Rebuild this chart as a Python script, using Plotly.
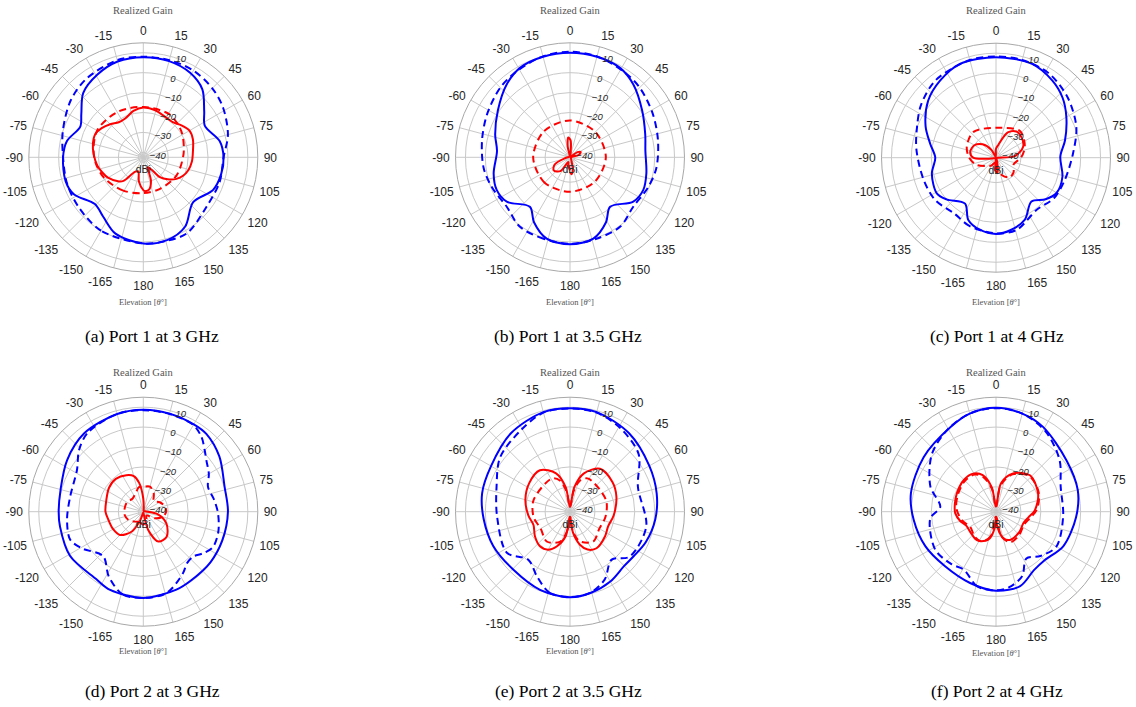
import plotly.graph_objects as go

# ---------------- data (gain in dBi vs elevation angle in degrees) ----------------
# (a) Port 1 at 3 GHz
A_BS_T = [-180, -160, -146, -134, -118, -107, -90, -78, -64, -55, -43, -29, -15, 0, 15, 29, 41, 53, 63, 78, 90, 102, 115, 132, 149, 164, 180]
A_BS_R = [0.8, -1.7, -6.5, -8.7, -3.0, -1.7, -2.2, -3.3, -7.3, -4.5, 1.7, 5.0, 7.3, 7.8, 7.5, 6.0, 2.7, -4.2, -7.8, -3.3, -2.2, -2.5, -3.8, -8.8, -1.8, 0.8, 0.8]
A_BD_T = [-180, -150, -128, -109, -90, -72, -52, -36, -15, 0, 15, 30, 45, 58, 75, 90, 108, 128, 150, 165, 180]
A_BD_R = [0.8, 0.0, -1.5, -2.0, -2.2, 0.0, 3.8, 6.2, 8.0, 8.0, 8.0, 7.8, 6.5, 4.7, 1.5, -2.2, -2.2, -2.2, 1.5, 1.0, 0.8]
A_RS_T = [-180, -170, -160, -150, -140, -135, -120, -110, -100, -86, -75, -64, -55, -45, -35, -25, -12, 0, 15, 30, 40, 50, 60, 70, 82, 95, 106, 115, 123, 132, 140, 146, 155, 162, 170, 177, 180]
A_RS_R = [-26, -30, -35, -34, -27, -25.3, -22, -20.5, -19, -17.5, -16.3, -15.7, -17, -19, -21, -21, -18.7, -17.5, -18.2, -19.5, -19.5, -17.5, -15.7, -16, -17.3, -18, -19, -20.5, -22.6, -26, -29.5, -35, -37, -30, -26, -25.5, -26]
A_RD_T = [-180, -149, -117, -90, -60, -30, 0, 30, 44, 59, 85, 119, 152, 180]
A_RD_R = [-24.5, -23, -20.2, -17.8, -15.7, -16.3, -17.2, -17.2, -18.3, -19.7, -22.2, -23.5, -24.6, -24.5]

# (b) Port 1 at 3.5 GHz
B_BS_T = [-180, -164, -151, -141, -125, -114, -102, -85, -73, -57, -41, -29, -15, 0, 15, 29, 41, 57, 73, 85, 102, 114, 125, 141, 151, 164, 180]
B_BS_R = [1.2, 0.0, -5.2, -10.5, -3.7, -2.2, -3.3, -5.7, -3.2, 0.7, 6.0, 9.0, 9.8, 10.0, 9.8, 9.0, 6.0, 0.7, -3.0, -4.5, -3.3, -2.2, -3.7, -10.5, -5.2, 0.0, 1.2]
B_BD_T = [-180, -162, -144, -128, -111, -97, -79, -62, -45, -32, -15, 0, 15, 32, 45, 62, 79, 97, 111, 128, 144, 162, 180]
B_BD_R = [1.0, 0.5, 0.5, -2.2, -0.5, 1.2, 2.5, 4.5, 7.0, 8.3, 10.0, 10.5, 10.0, 8.3, 7.0, 4.5, 2.5, 1.2, -0.5, -2.2, 0.5, 0.5, 1.0]
B_RS_T = [-180, -170, -160, -145, -129, -115, -100, -60, -20, -12, -5, 2, 8, 20, 45, 55, 64, 75, 85, 120, 160, 168, 175, 180]
B_RS_R = [-36, -38, -40, -34, -32, -34, -40, -42, -42, -37, -32.5, -34, -40, -42, -42, -38, -36.5, -38, -42, -42, -40, -36, -34, -35]
B_RD_T = [-180, -135, -90, -45, 0, 45, 90, 135, 180]
B_RD_R = [-25.2, -24.5, -24.0, -24.0, -24.0, -24.5, -24.5, -25.0, -25.2]

# (c) Port 1 at 4 GHz
C_BS_T = [-180, -167, -156, -146, -130, -121, -104, -90, -78, -66, -50, -36, -21, 0, 21, 36, 48, 60, 76, 89, 106, 120, 130, 141, 155, 168, 180]
C_BS_R = [-4.2, -5.5, -8.3, -14.7, -10.0, -7.8, -9.3, -12.0, -8.7, -3.8, 2.0, 5.3, 8.0, 8.0, 8.0, 5.5, 2.5, -1.7, -6.8, -10.2, -7.8, -7.3, -10.0, -14.2, -8.2, -5.5, -4.2]
C_BD_T = [-180, -159, -143, -125, -107, -84, -69, -55, -38, -15, 0, 15, 32, 50, 69, 87, 108, 125, 142, 164, 180]
C_BD_R = [-4.5, -5.7, -7.5, -5.3, -4.5, -2.3, 0.0, 3.5, 6.8, 8.3, 8.3, 8.3, 7.5, 4.5, 0.7, -3.8, -6.2, -7.0, -9.3, -4.8, -4.5]
C_RS_T = [-180, -175, -165, -120, -100, -90, -77, -60, -45, -30, -15, 0, 10, 25, 38, 50, 68, 85, 100, 150, 165, 175, 180]
C_RS_R = [-38, -36, -42, -42, -40, -31, -29.2, -30, -33, -38, -42, -38, -36, -28.5, -25.8, -26, -27.8, -33, -42, -42, -40, -34.7, -36]
C_RD_T = [-180, -170, -150, -130, -110, -90, -69, -41, 0, 42, 69, 90, 110, 130, 145, 160, 175, 180]
C_RD_R = [-39, -40, -38, -36, -32, -29, -26.8, -25.3, -27.5, -24.5, -27, -30, -33, -31, -30.5, -33, -38, -39]

# (d) Port 2 at 3 GHz
D_BS_T = [-180, -157, -145, -121, -100, -90, -75, -56, -37, -15, 0, 15, 30, 39, 54, 73, 90, 110, 127, 145, 157, 180]
D_BS_R = [0.8, 0.2, -1.2, 0.5, 0.0, 0.0, 0.5, 3.7, 6.8, 8.3, 8.7, 8.5, 8.2, 7.8, 4.7, 0.2, 0.0, -0.3, -0.3, -0.5, 0.0, 0.8]
D_BD_T = [-180, -166, -152, -138, -121, -111, -96, -78, -58, -46, -35, -15, 0, 15, 30, 38, 45, 51, 60, 69, 80, 91, 105, 117, 125, 132, 140, 147, 164, 180]
D_BD_R = [0.8, 0.3, -5.6, -12.4, -6.7, -3.2, -4.0, -5.0, -3.2, 2.3, 6.0, 8.3, 8.5, 8.3, 7.8, 5.0, 1.1, -1.7, -4.5, -7.7, -6.5, -5.0, -3.5, -3.3, -6.0, -8.8, -8.5, -5.8, 0.0, 0.8]
D_RS_T = [-180, -175, -160, -150, -135, -120, -103, -90, -72, -55, -40, -25, -15, -8, 0, 8, 20, 60, 85, 100, 117, 137, 153, 165, 180]
D_RS_R = [-42, -42, -38, -31, -26, -25, -24.5, -23.5, -23, -21.5, -21, -22.3, -24, -28, -36, -41, -42, -42, -41, -35, -29.5, -25.3, -25.7, -33, -42]
D_RD_T = [-180, -160, -140, -120, -100, -80, -60, -40, -20, -10, 0, 15, 30, 45, 60, 75, 90, 105, 120, 140, 160, 180]
D_RD_R = [-36, -37, -36, -34, -33, -33, -33, -34, -32, -30, -30, -29.5, -32, -35, -33, -31.5, -31, -32.5, -36, -40, -38, -36]

# (e) Port 2 at 3.5 GHz
E_BS_T = [-180, -159, -136, -114, -95, -78, -60, -37, -15, 0, 15, 37, 60, 78, 95, 112, 125, 135, 150, 165, 180]
E_BS_R = [0.5, -0.5, -1.8, -0.3, 1.0, 2.6, 3.3, 6.8, 9.3, 9.5, 9.3, 6.8, 3.5, 2.0, 0.5, -1.5, -3.5, -4.0, -2.0, -0.5, 0.5]
E_BD_T = [-180, -166, -153, -139, -123, -94, -71, -52, -31, -15, 0, 15, 31, 50, 70, 101, 127, 139, 153, 166, 180]
E_BD_R = [0.3, -0.5, -6.0, -10.6, -4.7, -5.8, -3.5, 2.0, 5.3, 9.0, 9.3, 9.0, 6.5, 2.5, -6.2, -3.5, -5.0, -10.6, -4.2, -0.5, 0.3]
E_RS_T = [-180, -170, -159, -150, -139, -125, -110, -95, -75, -55, -36, -20, -10, 0, 10, 20, 35, 55, 72, 95, 111, 125, 144, 155, 163, 172, 180]
E_RS_R = [-40, -30, -23.8, -20.5, -19.5, -21, -23, -21.5, -19.3, -17.5, -16.8, -22, -30, -40, -30, -22, -16.2, -16.5, -18, -20.5, -22, -21, -19.8, -21.5, -25, -32, -40]
E_RD_T = [-180, -172, -162, -142, -120, -98, -72, -29, -18, -10, 0, 10, 18, 29, 72, 98, 120, 142, 162, 172, 180]
E_RD_R = [-40, -33, -26.7, -23.5, -25.5, -24, -23.3, -23.5, -26, -32, -40, -32, -26, -23.5, -23.5, -24.5, -25.5, -23.5, -27, -33, -40]

# (f) Port 2 at 4 GHz
F_BS_T = [-180, -160, -137, -116, -96, -78, -53, -28, -15, 0, 15, 29, 54, 75, 94, 117, 135, 147, 162, 180]
F_BS_R = [-2.8, -4.4, -5.0, -3.0, -1.0, 1.2, 3.0, 5.8, 8.5, 9.7, 8.5, 6.2, 1.3, 0.0, -2.2, -4.5, -8.0, -7.5, -3.2, -2.8]
F_BD_T = [-180, -166, -151, -140, -122, -96, -85, -69, -48, -30, -15, 0, 15, 32, 51, 69, 94, 120, 135, 147, 158, 170, 180]
F_BD_R = [-3.0, -3.8, -9.2, -8.0, -6.5, -9.3, -14.4, -7.2, 0.8, 5.5, 8.5, 9.5, 8.5, 4.8, -1.4, -7.7, -8.7, -7.5, -11.0, -14.5, -7.5, -4.0, -3.0]
F_RS_T = [-180, -175, -167, -160, -146, -130, -115, -105, -92, -80, -65, -45, -31, -20, -10, 0, 10, 24, 43, 67, 88, 100, 113, 130, 154, 165, 175, 180]
F_RS_R = [-40, -34, -28.8, -27, -25.3, -26, -26, -24, -22, -21.5, -20.8, -19.8, -20.2, -23, -30, -40, -28, -21.5, -17.5, -19.5, -23, -26, -27.6, -27, -26.7, -29, -35, -40]
F_RD_T = [-180, -168, -155, -140, -120, -105, -85, -65, -45, -30, -20, -10, 0, 10, 24, 43, 66, 87, 100, 115, 135, 155, 168, 180]
F_RD_R = [-40, -30, -26, -26, -27.5, -25, -22.5, -21.5, -20.5, -21, -24, -31, -40, -29, -22, -18, -19, -22, -25, -27, -26, -25.5, -30, -40]

CAPTIONS = ["(a) Port 1 at 3 GHz", "(b) Port 1 at 3.5 GHz", "(c) Port 1 at 4 GHz",
            "(d) Port 2 at 3 GHz", "(e) Port 2 at 3.5 GHz", "(f) Port 2 at 4 GHz"]
ANG_TICKVALS = [0, 15, 30, 45, 60, 75, 90, 105, 120, 135, 150, 165, 180, 195, 210, 225, 240, 255, 270, 285, 300, 315, 330, 345]
ANG_TICKTEXT = ["0", "15", "30", "45", "60", "75", "90", "105", "120", "135", "150", "165", "180",
                "-165", "-150", "-135", "-120", "-105", "-90", "-75", "-60", "-45", "-30", "-15"]
RAD_TICKVALS = [-40, -30, -20, -10, 0, 10]
RAD_RANGE = [-42.5, 15]

PANELS = [
    (A_BS_T, A_BS_R, A_BD_T, A_BD_R, A_RS_T, A_RS_R, A_RD_T, A_RD_R),
    (B_BS_T, B_BS_R, B_BD_T, B_BD_R, B_RS_T, B_RS_R, B_RD_T, B_RD_R),
    (C_BS_T, C_BS_R, C_BD_T, C_BD_R, C_RS_T, C_RS_R, C_RD_T, C_RD_R),
    (D_BS_T, D_BS_R, D_BD_T, D_BD_R, D_RS_T, D_RS_R, D_RD_T, D_RD_R),
    (E_BS_T, E_BS_R, E_BD_T, E_BD_R, E_RS_T, E_RS_R, E_RD_T, E_RD_R),
    (F_BS_T, F_BS_R, F_BD_T, F_BD_R, F_RS_T, F_RS_R, F_RD_T, F_RD_R),
]

# ---------------- layout geometry (page pixels) ----------------
W, H = 1136, 707
CENTERS = [(143.3, 157.3), (570, 157.3), (996, 157.7), (143.3, 511.7), (570, 511.7), (996, 511.7)]
RADIUS = 114.5
TITLE_Y = [11, 11, 11, 372, 372, 372]
XLAB_Y = [302, 302, 302, 651, 651, 653]
CAP_POS = [(152, 336), (568, 336), (997, 336), (152, 691), (568, 691), (997, 691)]


def px(x):
    return x / W


def py(y):
    return 1 - y / H


fig = go.Figure()
layout = dict(width=W, height=H, margin=dict(l=0, r=0, t=0, b=0),
              paper_bgcolor="white", showlegend=False, annotations=[])

BLUE, RED = "#0000ff", "#ff0000"
DASH = "7px,4.5px"

for i, p in enumerate(PANELS):
    pid = "polar" if i == 0 else f"polar{i+1}"
    sub = pid
    styles = [(BLUE, "solid"), (BLUE, DASH), (RED, "solid"), (RED, DASH)]
    for k, (col, dash) in enumerate(styles):
        fig.add_trace(go.Scatterpolar(
            theta=p[2 * k], r=p[2 * k + 1], mode="lines", subplot=sub,
            line=dict(color=col, width=2, dash=dash, shape="spline", smoothing=0.9),
            hoverinfo="skip"))
    fig.add_trace(go.Scatterpolar(theta=[180], r=[-35.8], mode="text", text=["dBi"], subplot=sub,
                                  textfont=dict(family="Liberation Sans", size=10.5, color="#262626"),
                                  hoverinfo="skip"))
    cx, cy = CENTERS[i]
    layout[pid] = dict(
        domain=dict(x=[px(cx - RADIUS), px(cx + RADIUS)],
                    y=[py(cy + RADIUS), py(cy - RADIUS)]),
        bgcolor="white",
        angularaxis=dict(rotation=90, direction="clockwise", tickmode="array",
                         tickvals=ANG_TICKVALS, ticktext=ANG_TICKTEXT,
                         ticks="outside", ticklen=3, tickcolor="rgba(0,0,0,0)",
                         showline=True, linecolor="#a8a8a8", linewidth=1,
                         gridcolor="#c8c8c8", gridwidth=1,
                         tickfont=dict(family="Liberation Sans", size=12, color="#262626")),
        radialaxis=dict(range=RAD_RANGE, tickmode="array", tickvals=RAD_TICKVALS,
                        ticks="", showline=False, angle=75, tickangle=75, side="clockwise",
                        gridcolor="#c8c8c8", gridwidth=1,
                        tickfont=dict(family="Liberation Sans", size=9.5, color="#262626", style="italic")),
    )
    layout["annotations"].append(dict(x=px(cx), y=py(TITLE_Y[i]), xref="paper", yref="paper",
                                      text="Realized Gain", showarrow=False, xanchor="center", yanchor="middle",
                                      font=dict(family="Liberation Serif", size=10.5, color="#555555")))
    layout["annotations"].append(dict(x=px(cx), y=py(XLAB_Y[i]), xref="paper", yref="paper",
                                      text="Elevation [<i>θ</i>°]", showarrow=False, xanchor="center", yanchor="middle",
                                      font=dict(family="Liberation Serif", size=8.5, color="#555555")))
    capx, capy = CAP_POS[i]
    layout["annotations"].append(dict(x=px(capx), y=py(capy), xref="paper", yref="paper",
                                      text=CAPTIONS[i], showarrow=False, xanchor="center", yanchor="middle",
                                      font=dict(family="Liberation Serif", size=17.5, color="#000000")))

fig.update_layout(**layout)
fig.write_html("out.html", config={"displayModeBar": False},
               post_script="document.body.style.margin='0px';")
